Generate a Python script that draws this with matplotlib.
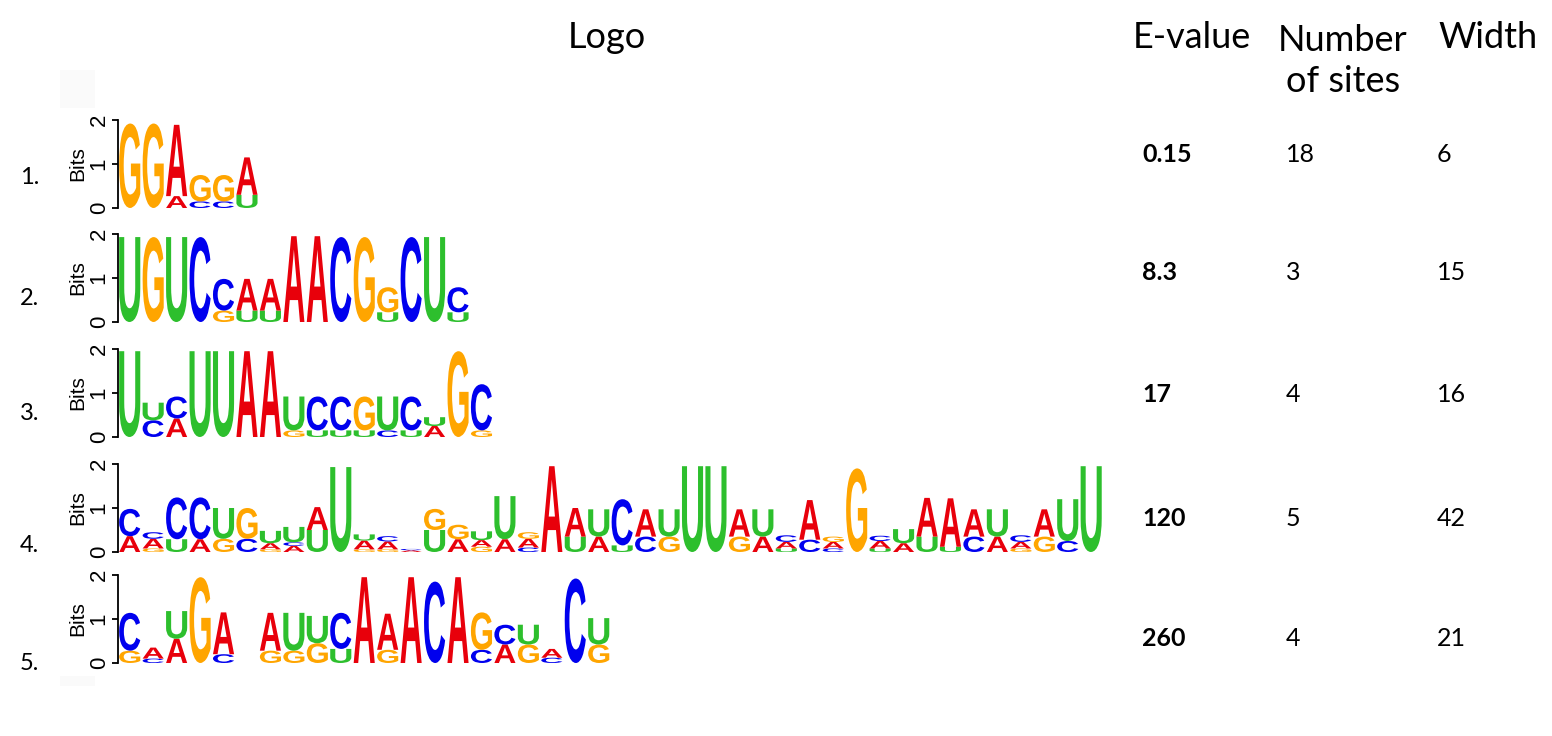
import matplotlib
matplotlib.use("Agg")
import matplotlib.pyplot as plt
import matplotlib.transforms as mtransforms
from matplotlib.textpath import TextPath
from matplotlib.patches import PathPatch, Rectangle
from matplotlib.font_manager import FontProperties

# ---------------------------------------------------------------
# Datos: cada columna del logo = letras de abajo hacia arriba (bits)
# ---------------------------------------------------------------
motif1 = [
    [('G', 1.92)],
    [('G', 1.92)],
    [('A', 0.27), ('A', 1.62)],
    [('C', 0.15), ('G', 0.60)],
    [('C', 0.15), ('G', 0.60)],
    [('U', 0.30), ('A', 0.85)],
]

motif2 = [
    [('U', 1.93)],
    [('G', 1.93)],
    [('U', 1.93)],
    [('C', 1.93)],
    [('G', 0.26), ('C', 0.72)],
    [('U', 0.26), ('A', 0.72)],
    [('U', 0.26), ('A', 0.72)],
    [('A', 1.95)],
    [('A', 1.95)],
    [('C', 1.93)],
    [('G', 1.93)],
    [('U', 0.22), ('G', 0.57)],
    [('C', 1.93)],
    [('U', 1.93)],
    [('U', 0.22), ('C', 0.57)],
]

motif3 = [
    [('U', 1.95)],
    [('C', 0.38), ('U', 0.40)],
    [('A', 0.42), ('C', 0.50)],
    [('U', 1.95)],
    [('U', 1.95)],
    [('A', 1.95)],
    [('A', 1.95)],
    [('G', 0.15), ('U', 0.77)],
    [('U', 0.15), ('C', 0.77)],
    [('U', 0.15), ('C', 0.77)],
    [('U', 0.15), ('G', 0.77)],
    [('C', 0.15), ('U', 0.77)],
    [('U', 0.15), ('C', 0.77)],
    [('A', 0.25), ('U', 0.20)],
    [('G', 1.95)],
    [('G', 0.15), ('C', 1.05)],
]

motif4 = [
    [('A', 0.36), ('C', 0.62)],
    [('G', 0.08), ('A', 0.22), ('C', 0.15)],
    [('U', 0.29), ('C', 0.95)],
    [('A', 0.29), ('C', 0.95)],
    [('G', 0.30), ('U', 0.70)],
    [('C', 0.30), ('G', 0.70)],
    [('G', 0.06), ('A', 0.14), ('U', 0.28)],
    [('A', 0.14), ('C', 0.08), ('U', 0.35)],
    [('U', 0.50), ('A', 0.52)],
    [('U', 1.93)],
    [('G', 0.06), ('A', 0.20), ('U', 0.14)],
    [('G', 0.06), ('A', 0.18), ('C', 0.12)],
    [('A', 0.04), ('C', 0.03)],
    [('U', 0.50), ('G', 0.48)],
    [('A', 0.29), ('G', 0.33)],
    [('G', 0.12), ('A', 0.15), ('U', 0.20)],
    [('A', 0.29), ('U', 0.98)],
    [('C', 0.10), ('A', 0.20), ('G', 0.15)],
    [('A', 1.95)],
    [('U', 0.35), ('A', 0.65)],
    [('A', 0.35), ('U', 0.62)],
    [('U', 0.15), ('C', 1.05)],
    [('C', 0.35), ('A', 0.62)],
    [('G', 0.35), ('U', 0.62)],
    [('U', 1.95)],
    [('U', 1.95)],
    [('G', 0.35), ('A', 0.62)],
    [('A', 0.35), ('U', 0.62)],
    [('U', 0.08), ('A', 0.15), ('C', 0.15)],
    [('C', 0.28), ('A', 0.90)],
    [('C', 0.08), ('A', 0.15), ('G', 0.12)],
    [('G', 1.90)],
    [('U', 0.08), ('A', 0.17), ('C', 0.12)],
    [('A', 0.20), ('U', 0.32)],
    [('U', 0.35), ('A', 0.88)],
    [('U', 0.12), ('A', 1.10)],
    [('C', 0.35), ('A', 0.62)],
    [('A', 0.35), ('U', 0.62)],
    [('G', 0.08), ('A', 0.15), ('C', 0.15)],
    [('G', 0.35), ('A', 0.62)],
    [('C', 0.25), ('U', 0.95)],
    [('U', 1.95)],
]

motif5 = [
    [('G', 0.28), ('C', 0.86)],
    [('C', 0.10), ('A', 0.25)],
    [('A', 0.55), ('U', 0.63)],
    [('G', 1.95)],
    [('C', 0.20), ('A', 0.95)],
    [],
    [('G', 0.28), ('A', 0.86)],
    [('G', 0.28), ('U', 0.86)],
    [('G', 0.45), ('U', 0.62)],
    [('U', 0.32), ('C', 0.82)],
    [('A', 1.95)],
    [('G', 0.30), ('A', 0.82)],
    [('A', 1.95)],
    [('C', 1.85)],
    [('A', 1.95)],
    [('C', 0.30), ('G', 0.85)],
    [('A', 0.42), ('C', 0.45)],
    [('G', 0.42), ('U', 0.45)],
    [('C', 0.12), ('A', 0.20)],
    [('C', 1.92)],
    [('G', 0.42), ('U', 0.60)],
]

motifs = [motif1, motif2, motif3, motif4, motif5]
row_labels = ['1.', '2.', '3.', '4.', '5.']
evalues = ['0.15', '8.3', '17', '120', '260']
n_sites = ['18', '3', '4', '5', '4']
widths = ['6', '15', '16', '42', '21']

# ---------------------------------------------------------------
# Estilo
# ---------------------------------------------------------------
W, H = 1552, 736
COLORES = {'A': '#e8000b', 'C': '#0000ee', 'G': '#ffa500', 'U': '#2dbf2d'}
fp_letra = FontProperties(family='Liberation Sans', weight='bold')
FUENTE = ['Lato', 'DejaVu Sans']

def fx(x):
    return x / W

def fy(y):
    return 1 - y / H

def dibujar_letra(ax, ch, x, y, w, h):
    tp = TextPath((0, 0), ch, size=1, prop=fp_letra)
    bb = tp.get_extents()
    t = (mtransforms.Affine2D()
         .translate(-bb.x0, -bb.y0)
         .scale(w / bb.width, h / bb.height)
         .translate(x, y))
    ax.add_patch(PathPatch(t.transform_path(tp), fc=COLORES[ch], ec='none', lw=0))

fig = plt.figure(figsize=(W / 100, H / 100), dpi=100)

# cuadritos grises tenues del original
fig.patches.append(Rectangle((fx(60), fy(108)), 35 / W, 38 / H, transform=fig.transFigure,
                             fc='#fafafa', ec='none'))
fig.patches.append(Rectangle((fx(60), fy(686)), 35 / W, 10 / H, transform=fig.transFigure,
                             fc='#fafafa', ec='none'))

# encabezados
fig.text(fx(607), fy(38), 'Logo', ha='center', va='center', fontsize=26, family=FUENTE)
fig.text(fx(1192), fy(38), 'E-value', ha='center', va='center', fontsize=26, family=FUENTE)
fig.text(fx(1343), fy(61), 'Number\nof sites', ha='center', va='center', fontsize=26,
         family=FUENTE, linespacing=1.3)
fig.text(fx(1488), fy(38), 'Width', ha='center', va='center', fontsize=26, family=FUENTE)

COL_PX = 23.45
LOGO_H = 88
x_eje = 118
fondos = [208, 322, 437, 552, 663]
y_valores = [155, 273, 395, 518, 638]
y_etiquetas = [178, 298, 413, 545, 663]

for i, motif in enumerate(motifs):
    n = len(motif)
    ax = fig.add_axes([fx(x_eje), fy(fondos[i]), n * COL_PX / W, LOGO_H / H])
    ax.set_xlim(0, n)
    ax.set_ylim(0, 2)
    for j, col in enumerate(motif):
        base = 0.0
        for letra, alto in col:
            dibujar_letra(ax, letra, j + 0.05, base, 0.9, alto)
            base += alto
    for s in ['top', 'right', 'bottom']:
        ax.spines[s].set_visible(False)
    ax.spines['left'].set_linewidth(1.3)
    ax.set_xticks([])
    ax.set_yticks([0, 1, 2])
    ax.tick_params(axis='y', length=4, width=1.3, pad=2, labelsize=16)
    for lb in ax.get_yticklabels():
        lb.set_rotation(90)
        lb.set_va('center')
        lb.set_family('Liberation Sans')
    ax.patch.set_alpha(0)

    yc = fondos[i] - LOGO_H / 2
    fig.text(fx(78), fy(yc), 'Bits', rotation=90, ha='center', va='center',
             fontsize=15, family='Liberation Sans')
    fig.text(fx(20), fy(y_etiquetas[i]), row_labels[i], ha='left', va='center',
             fontsize=17, family=FUENTE)
    fig.text(fx(1142), fy(y_valores[i]), evalues[i], ha='left', va='center',
             fontsize=18, fontweight='bold', family=FUENTE)
    fig.text(fx(1286), fy(y_valores[i]), n_sites[i], ha='left', va='center',
             fontsize=18, family=FUENTE)
    fig.text(fx(1437), fy(y_valores[i]), widths[i], ha='left', va='center',
             fontsize=18, family=FUENTE)

fig.savefig('out.png', dpi=100)
